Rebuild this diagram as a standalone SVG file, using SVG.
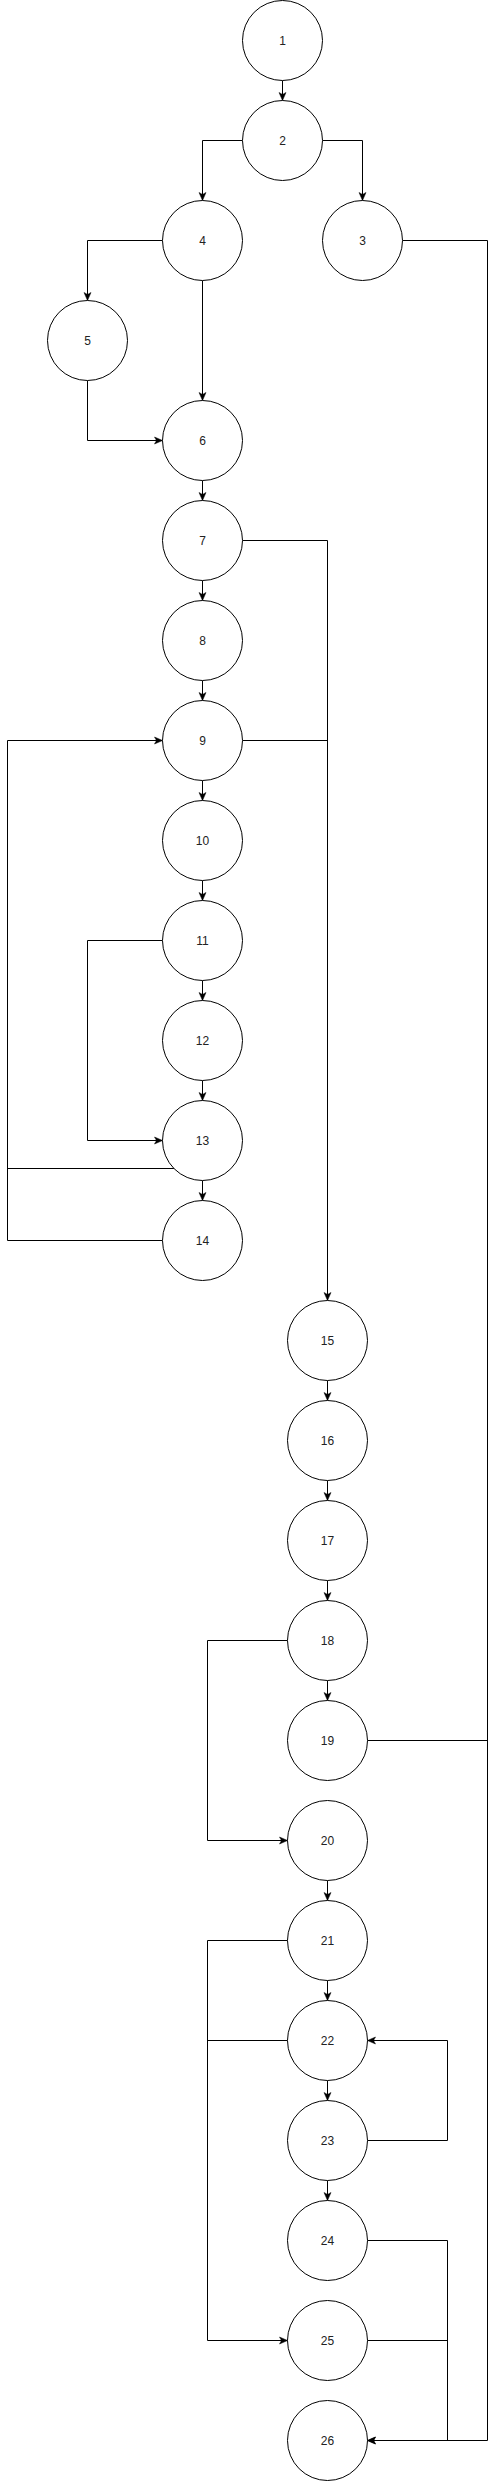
<svg xmlns="http://www.w3.org/2000/svg" width="489" height="2481" viewBox="0 0 489 2481">
<style>
.n circle{fill:#fff;stroke:#000;stroke-width:1}
.n text{font-family:"Liberation Sans",Arial,sans-serif;font-size:12px;fill:#222;text-anchor:middle;dominant-baseline:central}
#edges path{fill:none;stroke:#000;stroke-width:1}
</style>
<defs>
<marker id="a" markerUnits="userSpaceOnUse" viewBox="0 0 10 10" markerWidth="10" markerHeight="10" refX="9" refY="5" orient="auto">
<path d="M1,1.5 L9,5 L1,8.5 L3,5 Z" fill="#000" stroke="#000" stroke-width="0.5"/>
</marker>
</defs>
<rect width="489" height="2481" fill="#fff"/>
<g id="edges">
<path d="M282.5,80.5 V100.5" marker-end="url(#a)"/>
<path d="M242.5,140.5 H202.5 V200.5" marker-end="url(#a)"/>
<path d="M322.5,140.5 H362.5 V200.5" marker-end="url(#a)"/>
<path d="M162.5,240.5 H87.5 V300.5" marker-end="url(#a)"/>
<path d="M202.5,280.5 V400.5" marker-end="url(#a)"/>
<path d="M87.5,380.5 V440.5 H162.5" marker-end="url(#a)"/>
<path d="M402.5,240.5 H487.5 V2440.5 H367.5" marker-end="url(#a)"/>
<path d="M202.5,480.5 V500.5" marker-end="url(#a)"/>
<path d="M202.5,580.5 V600.5" marker-end="url(#a)"/>
<path d="M202.5,680.5 V700.5" marker-end="url(#a)"/>
<path d="M202.5,780.5 V800.5" marker-end="url(#a)"/>
<path d="M202.5,880.5 V900.5" marker-end="url(#a)"/>
<path d="M202.5,980.5 V1000.5" marker-end="url(#a)"/>
<path d="M202.5,1080.5 V1100.5" marker-end="url(#a)"/>
<path d="M202.5,1180.5 V1200.5" marker-end="url(#a)"/>
<path d="M242.5,540.5 H327.5 V1300.5" marker-end="url(#a)"/>
<path d="M242.5,740.5 H327.5"/>
<path d="M162.5,940.5 H87.5 V1140.5 H162.5" marker-end="url(#a)"/>
<path d="M162.5,1240.5 H7.5 V740.5 H162.5" marker-end="url(#a)"/>
<path d="M174.2,1168.5 H7.5"/>
<path d="M327.5,1380.5 V1400.5" marker-end="url(#a)"/>
<path d="M327.5,1480.5 V1500.5" marker-end="url(#a)"/>
<path d="M327.5,1580.5 V1600.5" marker-end="url(#a)"/>
<path d="M327.5,1680.5 V1700.5" marker-end="url(#a)"/>
<path d="M287.5,1640.5 H207.5 V1840.5 H287.5" marker-end="url(#a)"/>
<path d="M367.5,1740.5 H487.5"/>
<path d="M327.5,1880.5 V1900.5" marker-end="url(#a)"/>
<path d="M327.5,1980.5 V2000.5" marker-end="url(#a)"/>
<path d="M327.5,2080.5 V2100.5" marker-end="url(#a)"/>
<path d="M327.5,2180.5 V2200.5" marker-end="url(#a)"/>
<path d="M287.5,1940.5 H207.5 V2340.5 H287.5" marker-end="url(#a)"/>
<path d="M287.5,2040.5 H207.5"/>
<path d="M367.5,2140.5 H447.5 V2040.5 H367.5" marker-end="url(#a)"/>
<path d="M367.5,2240.5 H447.5 V2440.5 H367.5" marker-end="url(#a)"/>
<path d="M367.5,2340.5 H447.5"/>
</g>
<g id="n1" class="n"><circle cx="282.5" cy="40.5" r="40"/><text x="282.5" y="40.5">1</text></g>
<g id="n2" class="n"><circle cx="282.5" cy="140.5" r="40"/><text x="282.5" y="140.5">2</text></g>
<g id="n3" class="n"><circle cx="362.5" cy="240.5" r="40"/><text x="362.5" y="240.5">3</text></g>
<g id="n4" class="n"><circle cx="202.5" cy="240.5" r="40"/><text x="202.5" y="240.5">4</text></g>
<g id="n5" class="n"><circle cx="87.5" cy="340.5" r="40"/><text x="87.5" y="340.5">5</text></g>
<g id="n6" class="n"><circle cx="202.5" cy="440.5" r="40"/><text x="202.5" y="440.5">6</text></g>
<g id="n7" class="n"><circle cx="202.5" cy="540.5" r="40"/><text x="202.5" y="540.5">7</text></g>
<g id="n8" class="n"><circle cx="202.5" cy="640.5" r="40"/><text x="202.5" y="640.5">8</text></g>
<g id="n9" class="n"><circle cx="202.5" cy="740.5" r="40"/><text x="202.5" y="740.5">9</text></g>
<g id="n10" class="n"><circle cx="202.5" cy="840.5" r="40"/><text x="202.5" y="840.5">10</text></g>
<g id="n11" class="n"><circle cx="202.5" cy="940.5" r="40"/><text x="202.5" y="940.5">11</text></g>
<g id="n12" class="n"><circle cx="202.5" cy="1040.5" r="40"/><text x="202.5" y="1040.5">12</text></g>
<g id="n13" class="n"><circle cx="202.5" cy="1140.5" r="40"/><text x="202.5" y="1140.5">13</text></g>
<g id="n14" class="n"><circle cx="202.5" cy="1240.5" r="40"/><text x="202.5" y="1240.5">14</text></g>
<g id="n15" class="n"><circle cx="327.5" cy="1340.5" r="40"/><text x="327.5" y="1340.5">15</text></g>
<g id="n16" class="n"><circle cx="327.5" cy="1440.5" r="40"/><text x="327.5" y="1440.5">16</text></g>
<g id="n17" class="n"><circle cx="327.5" cy="1540.5" r="40"/><text x="327.5" y="1540.5">17</text></g>
<g id="n18" class="n"><circle cx="327.5" cy="1640.5" r="40"/><text x="327.5" y="1640.5">18</text></g>
<g id="n19" class="n"><circle cx="327.5" cy="1740.5" r="40"/><text x="327.5" y="1740.5">19</text></g>
<g id="n20" class="n"><circle cx="327.5" cy="1840.5" r="40"/><text x="327.5" y="1840.5">20</text></g>
<g id="n21" class="n"><circle cx="327.5" cy="1940.5" r="40"/><text x="327.5" y="1940.5">21</text></g>
<g id="n22" class="n"><circle cx="327.5" cy="2040.5" r="40"/><text x="327.5" y="2040.5">22</text></g>
<g id="n23" class="n"><circle cx="327.5" cy="2140.5" r="40"/><text x="327.5" y="2140.5">23</text></g>
<g id="n24" class="n"><circle cx="327.5" cy="2240.5" r="40"/><text x="327.5" y="2240.5">24</text></g>
<g id="n25" class="n"><circle cx="327.5" cy="2340.5" r="40"/><text x="327.5" y="2340.5">25</text></g>
<g id="n26" class="n"><circle cx="327.5" cy="2440.5" r="40"/><text x="327.5" y="2440.5">26</text></g>
</svg>
